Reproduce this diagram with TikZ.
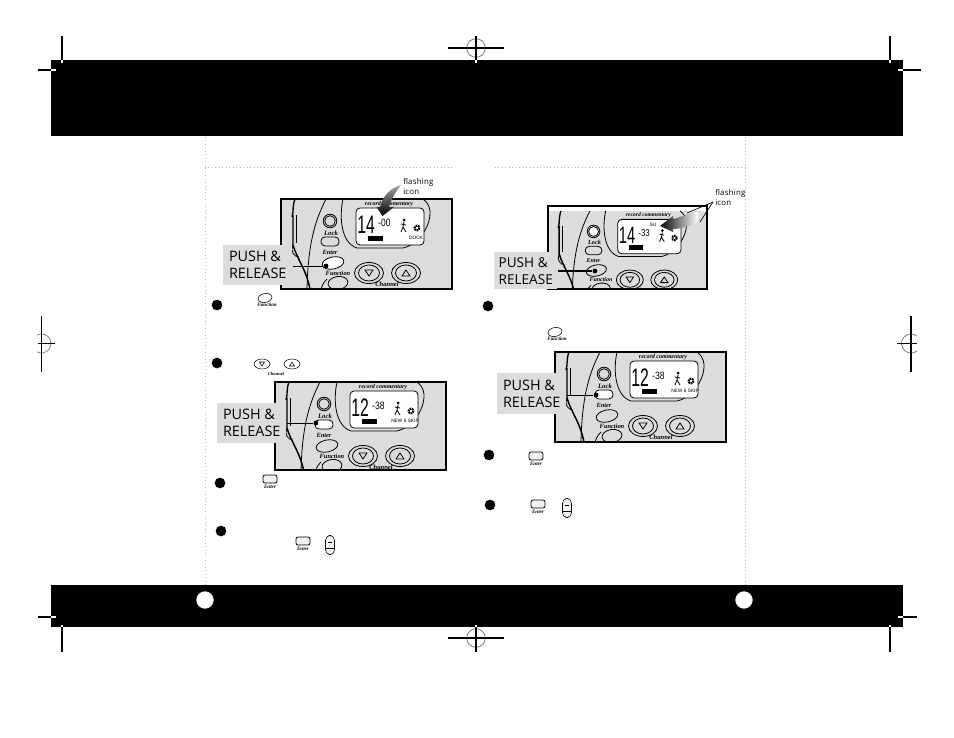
\documentclass[tikz,border=0pt]{standalone}
\usepackage{fontspec}
\setmainfont{Open Sans}
\newfontfamily\radiofont{Liberation Serif}
\newfontfamily\lcdfont{Liberation Sans}
\usetikzlibrary{positioning}
\definecolor{halftone}{HTML}{DCDCDC}
\definecolor{rulegray}{HTML}{B4B4B4}

\tikzset{
  cropline/.style={line width=1pt},
  cropring/.style={line width=0.6pt, draw=gray},
  dotrule/.style={line width=0.6pt, rulegray, dotted},
  stepdot/.style={circle, fill=black, inner sep=0pt, minimum size=8pt},
  pagedot/.style={circle, fill=white, inner sep=0pt, minimum size=13pt},
  pushlabel/.style={fill=halftone, inner sep=0pt, align=left, anchor=north west},
  leaderdot/.style={circle, fill=black, inner sep=0pt, minimum size=3.6pt},
  radiotext/.style={inner sep=0pt, font=\radiofont\bfseries\itshape\fontsize{#1}{#1}\selectfont},
  lcdtext/.style={inner sep=0pt, font=\lcdfont\fontsize{#1}{#1}\selectfont},
  flashtext/.style={inner sep=0pt, align=left, anchor=north west, font=\fontsize{5.9}{6.6}\selectfont\addfontfeatures{LetterSpace=3}},
}

% halftone radio body, origin at the top left of the crop
\newcommand{\radiobody}[5]{
  \fill[halftone] (0,0) rectangle (171,90);
  % housing on the left
  \draw[line width=1pt] (14,0) .. controls (11,8) and (13,12) .. (11,18);
  \draw[line width=1.1pt] (12,16) -- (12,46) .. controls (16,60) and (25,70) .. (29,90);
  \draw[semithick] (15,16) -- (15,44);
  \draw[semithick] (12,46) .. controls (9,52) and (13,58) .. (18,58);
  \draw[semithick] (45,0) .. controls (36,18) and (27,40) .. (26,90);
  \draw[semithick] (40,90) .. controls (42,84) and (44,82) .. (46,80);
  % display surround
  \draw[semithick] (62,0) .. controls (58,18) and (60,44) .. (76,49)
    -- (122,49) .. controls (134,47) and (150,30) .. (149,12) .. controls (148,6) and (146,3) .. (142,0);
  \node[radiotext=4.5] (#5rec) at (108,5) {record commentary};
  \draw[semithick, fill=white, rounded corners=3pt] (75,9) rectangle (143,46);
  \node[lcdtext=19, xscale=.62] (#5digits) at (85,26) {#1};
  \node[lcdtext=8, anchor=west, xscale=.8] (#5small) at (97,24) {#2};
  \fill (87,37) rectangle (102,42);
  % person and fan icons
  \fill (123,21) circle (1.5);
  \draw[semithick] (123,23) -- (122,28) -- (120,33) (122,28) -- (125,33) (120,25) -- (125,26);
  \draw[line width=1.5pt, dash pattern=on 1.2pt off .6pt] (136,29) circle (2.4);
  \node[lcdtext=3.6] (#5info) at (#3,39) {#4};
  % lock and enter
  \draw[semithick, fill=halftone] (49,22) circle (6.8);
  \draw[semithick, fill=\lockfill] (49,22) circle (5.3);
  \node[radiotext=5] (#5lock) at (50,34) {Lock};
  \draw[semithick, fill=\enterfill, rounded corners=3pt] (40,38) rectangle (58,47);
  \node[radiotext=4.8] (#5enter) at (49,53) {Enter};
  % function and spare button
  \draw[semithick, fill=\funcfill] (52,64) ellipse [x radius=11, y radius=6, rotate=12];
  \node[radiotext=4.8] (#5func) at (57,74) {Function};
  \draw[semithick, fill=halftone] (57,84) ellipse [x radius=10, y radius=6.5, rotate=8];
  % channel buttons
  \foreach \cx/\tip in {88/1,125/-1} {
    \draw[semithick, fill=halftone] (\cx,74) ellipse [x radius=14.5, y radius=10.5];
    \draw[semithick, fill=halftone] (\cx,74) ellipse [x radius=10.5, y radius=8];
    \draw[semithick] (\cx-4,74-3*\tip) -- (\cx+4,74-3*\tip) -- (\cx,74+3*\tip) -- cycle;
  }
  \node[radiotext=4.9] (#5chan) at (106,85) {Channel};
}

% small copies of the radio's buttons in the steps
\newcommand{\enterkey}[3]{
  \draw[semithick, fill=halftone!40, rounded corners=1.5pt] (#1-7,#2-4) rectangle (#1+7,#2+4);
  \node[radiotext=3.8] (#3) at (#1,#2+8) {Enter};
}
\newcommand{\functionkey}[3]{
  \draw[thin] (#1,#2) ellipse [x radius=7, y radius=4.5, rotate=10];
  \node[radiotext=3.8] (#3) at (#1+2,#2+7) {Function};
}
\newcommand{\slidekey}[2]{
  \draw[thin, fill=halftone!30, rounded corners=3.5pt] (#1-4.5,#2-9.5) rectangle (#1+4.5,#2+9.5);
  \draw[thin] (#1-4.5,#2+3) -- (#1+4.5,#2+3);
  \fill (#1-2,#2-3) rectangle (#1+2,#2-2);
}

\begin{document}
\begin{tikzpicture}[x=0.75pt, y=-0.75pt]
  \useasboundingbox (0,0) rectangle (954,738);
  \def\lockfill{halftone}

  % page bands
  \fill (51,60) rectangle (903,136);
  \fill (51,585) rectangle (903,627);
  \node[pagedot] (pageleft) at (205,600) {};
  \node[pagedot] (pageright) at (744,600) {};

  % crop marks
  \draw[cropline] (62,36) -- (62,60) (38,70) -- (51,70);
  \draw[cropline] (890,36) -- (890,60) (903,70) -- (921,70);
  \draw[cropline] (62,627) -- (62,652) (38,617) -- (51,617);
  \draw[cropline] (890,627) -- (890,652) (903,617) -- (917,617);
  \draw[cropline, white] (62,60) -- (62,63.5) (51,70) -- (56,70);
  \draw[cropline, white] (890,60) -- (890,63.5) (898,70) -- (903,70);
  \draw[cropline, white] (62,627) -- (62,625) (51,617) -- (56,617);
  \draw[cropline, white] (890,627) -- (890,625) (898,617) -- (903,617);
  \draw[cropring] (476,48) circle (9.3);
  \draw[cropring] (476,638) circle (9.3);
  \draw[cropline] (448,48) -- (504,48) (476,36) -- (476,60);
  \draw[cropline] (448,638) -- (504,638) (476,627) -- (476,652);
  \draw[cropline, white] (476,60) -- (476,63) (476,627) -- (476,625);
  \draw[cropring] (37,335.1) arc (-118:118:9.5);
  \draw[cropline] (41.5,316) -- (41.5,372) (38,343.5) -- (55,343.5);
  \draw[cropring] (917,336.1) arc (-51:-309:9.5);
  \draw[cropline] (911,316) -- (911,372) (897,343.5) -- (917,343.5);

  % dotted page rules
  \draw[dotrule] (205,137) -- (205,585);
  \draw[dotrule] (745,137) -- (745,585);
  \draw[dotrule] (205,167) -- (452,167);
  \draw[dotrule] (495,167) -- (745,167);

  % first radio, left column
  \begin{scope}[shift={(281,199)}]
    \def\enterfill{halftone}\def\funcfill{white}
    \begin{scope}
      \clip (0,0) rectangle (171,90);
      \radiobody{14}{-00}{135}{DOCK}{rone}
    \end{scope}
    \draw[line width=.8pt] (0,0) rectangle (171,90);
  \end{scope}
  \shade[top color=gray!70, bottom color=black, draw=none]
    (401,185) .. controls (391,188) and (383,195) .. (380,207) -- (376.5,207)
    -- (382.5,216) -- (394,207) -- (389,207) .. controls (391,199) and (396,192) .. (401,185) -- cycle;
  \node[flashtext] (flashone) at (403,178) {flashing\\[1pt]icon};
  \node[pushlabel, minimum width=69*0.75pt, minimum height=40*0.75pt,
    font=\fontsize{10.8}{12.75}\selectfont] (pushone) at (223,245) {PUSH \&\\RELEASE};
  \node[leaderdot] (dotone) at (326,266) {};
  \draw[line width=.7pt] (pushone.east |- dotone) -- (dotone);

  % second radio, left column
  \begin{scope}[shift={(275,382)}]
    \def\enterfill{white}\def\funcfill{halftone}
    \begin{scope}
      \clip (0,0) rectangle (171,88);
      \radiobody{12}{-38}{130}{NEW 6 SKIP}{rtwo}
    \end{scope}
    \draw[line width=.8pt] (0,0) rectangle (171,88);
  \end{scope}
  \node[pushlabel, minimum width=69*0.75pt, minimum height=40*0.75pt,
    font=\fontsize{10.8}{12.75}\selectfont] (pushtwo) at (217,403) {PUSH \&\\RELEASE};
  \node[leaderdot] (dottwo) at (316,423) {};
  \draw[line width=.7pt] (pushtwo.east |- dottwo) -- (dottwo);

  % radio in the right column, cut at the top and on the right
  \begin{scope}[shift={(548,206)}]
    \def\enterfill{halftone}\def\funcfill{halftone}\def\lockfill{white}
    \clip (0,0) rectangle (159,83);
    \begin{scope}[shift={(0,5)}, scale=.93, transform shape]
      \radiobody{14}{-33}{135}{}{rthree}
    \end{scope}
  \end{scope}
  \draw[line width=.8pt] (548,206) rectangle (707,289);
  \node[lcdtext=3.6] (signthree) at (653,225) {SU};
  \draw[line width=.5pt] (713,202) -- (687,213);
  \shade[left color=black, right color=white, draw=none]
    (660,226) -- (673,216) -- (673,220) .. controls (680,216) and (690,214) .. (698,212)
    -- (698,222) .. controls (690,226) and (680,229) .. (673,229) -- (673,232) -- cycle;
  \draw[line width=.5pt] (713,202) -- (700,222);
  \node[flashtext] (flashtwo) at (715,189) {flashing\\[1pt]icon};
  \node[pushlabel, minimum width=63*0.75pt, minimum height=37*0.75pt,
    font=\fontsize{10.2}{12.75}\selectfont] (pushthree) at (494,252) {PUSH \&\\RELEASE};
  \node[leaderdot] (dotthree) at (595,271) {};
  \draw[line width=1pt] (pushthree.east |- dotthree) -- (dotthree);

  % last radio, right column
  \begin{scope}[shift={(555,352)}]
    \def\enterfill{white}\def\funcfill{halftone}
    \begin{scope}
      \clip (0,0) rectangle (171,90);
      \radiobody{12}{-38}{130}{NEW 6 SKIP}{rfour}
    \end{scope}
    \draw[line width=.8pt] (0,0) rectangle (171,90);
  \end{scope}
  \node[pushlabel, minimum width=69*0.75pt, minimum height=41*0.75pt,
    font=\fontsize{10.8}{12.75}\selectfont] (pushfour) at (497,373) {PUSH \&\\RELEASE};
  \node[leaderdot] (dotfour) at (596,395) {};
  \draw[line width=.7pt] (pushfour.east |- dotfour) -- (dotfour);

  % step bullets
  \foreach \bx/\by/\bname in {217/305/one,217/363/two,220/483/three,221/531/four,
      488/306/five,489/455/six,490/505/seven}
    \node[stepdot] (bullet\bname) at (\bx,\by) {};

  % buttons named in the steps
  \functionkey{265}{298}{funcone}
  \functionkey{555}{332}{functwo}
  \enterkey{270}{479}{enterone}
  \enterkey{303}{541}{entertwo}
  \enterkey{536}{456}{enterthree}
  \enterkey{538}{504}{enterfour}
  \slidekey{330}{545}
  \slidekey{567}{508}
  \foreach \kx/\tip in {262/1,292/-1} {
    \draw[thin] (\kx,364) ellipse [x radius=8, y radius=5];
    \draw[thin] (\kx-2.5,364-2*\tip) -- (\kx+2.5,364-2*\tip) -- (\kx,364+2*\tip) -- cycle;
  }
  \node[radiotext=3.4] (chanstep) at (276,374) {Channel};
\end{tikzpicture}
\end{document}
